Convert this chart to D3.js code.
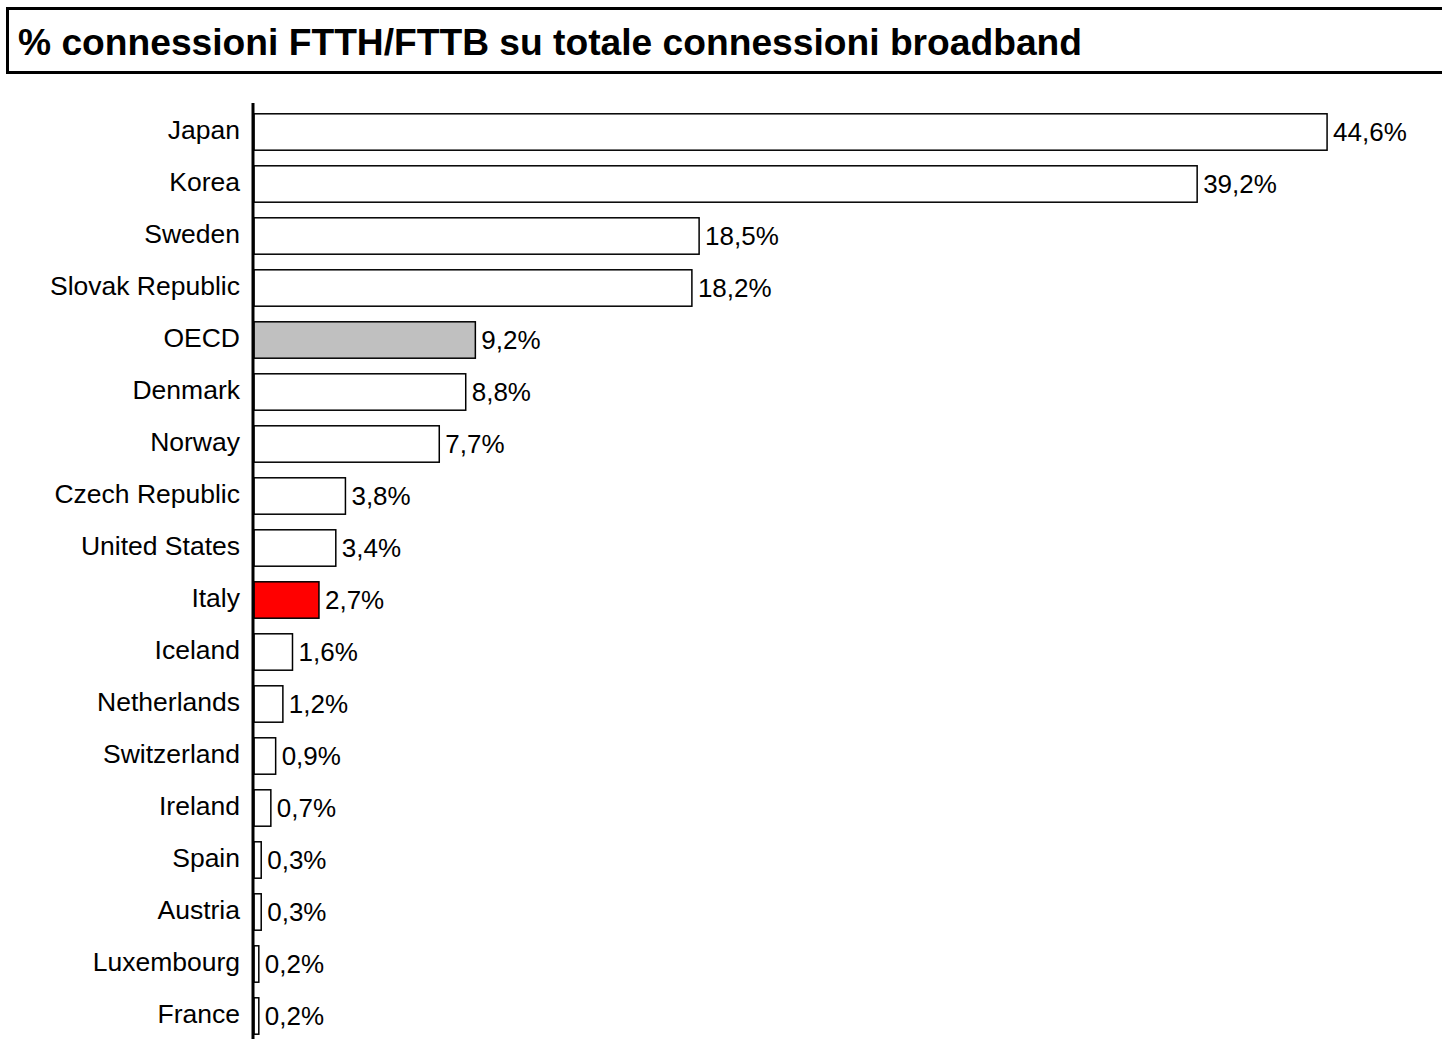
<!DOCTYPE html>
<html>
<head>
<meta charset="utf-8">
<script src="https://cdn.jsdelivr.net/npm/d3@7"></script>
<style>
   body { margin: 0; background: #fff; }
   svg { display: block; font-family: "Liberation Sans", Arial, sans-serif; }
</style>
</head>
<body>
<div id="chart"></div>
<script>
// countries, top to bottom
var countries = ["Japan", "Korea", "Sweden", "Slovak Republic", "OECD", "Denmark", "Norway",
   "Czech Republic", "United States", "Italy", "Iceland", "Netherlands", "Switzerland",
   "Ireland", "Spain", "Austria", "Luxembourg", "France"]
// % FTTH/FTTB
var values = [44.6, 39.2, 18.5, 18.2, 9.2, 8.8, 7.7, 3.8, 3.4, 2.7, 1.6, 1.2, 0.9, 0.7, 0.3, 0.3, 0.2, 0.2]
var title = "% connessioni FTTH/FTTB su totale connessioni broadband"

var width = 1442
var height = 1039

var itLocale = d3.formatLocale({ decimal: ",", thousands: ".", grouping: [3], currency: ["€", ""] })
var fmt = itLocale.format(".1f")

var svg = d3.select("#chart").append("svg")
   .attr("width", width)
   .attr("height", height)

// title box
svg.append("rect")
   .attr("x", 7.5)
   .attr("y", 8.5)
   .attr("width", width)
   .attr("height", 64)
   .attr("fill", "none")
   .attr("stroke", "#000")
   .attr("stroke-width", 3)

svg.append("text")
   .attr("x", 18)
   .attr("y", 55)
   .attr("font-size", 37.2)
   .attr("font-weight", "bold")
   .text(title)

var x0 = 254
var scaleX = d3.scaleLinear().domain([0, 48]).range([x0, x0 + 48 * 24.06])
var scaleY = d3.scaleBand().domain(countries).range([106, 1042])
   .paddingInner(0.3).paddingOuter(0.15)

var data = countries.map(function(c, i) { return { name: c, value: values[i] } })

function fillFor(d) {
   if(d.name == "OECD") return "#c0c0c0"
   if(d.name == "Italy") return "#ff0000"
   return "#fff"
}

svg.selectAll("rect.bar").data(data).enter().append("rect")
   .attr("class", "bar")
   .attr("x", scaleX(0))
   .attr("y", function(d) { return scaleY(d.name) })
   .attr("width", function(d) { return scaleX(d.value) - scaleX(0) })
   .attr("height", scaleY.bandwidth())
   .attr("fill", fillFor)
   .attr("stroke", "#000")
   .attr("stroke-width", 1.5)

svg.selectAll("text.val").data(data).enter().append("text")
   .attr("class", "val")
   .attr("x", function(d) { return scaleX(d.value) + 6 })
   .attr("y", function(d) { return scaleY(d.name) + scaleY.bandwidth() / 2 })
   .attr("dy", "0.35em")
   .attr("font-size", 26)
   .text(function(d) { return fmt(d.value) + "%" })

// category axis
var axis = svg.append("g")
   .attr("transform", "translate(" + (x0 - 1) + ",0)")
   .call(d3.axisLeft(scaleY).tickSize(0).tickPadding(13))

axis.select(".domain")
   .attr("d", "M0,103V" + height)
   .attr("stroke", "#000")
   .attr("stroke-width", 3)

axis.selectAll("text")
   .attr("font-size", 26.5)
   .attr("font-family", "Liberation Sans, Arial, sans-serif")
   .attr("fill", "#000")
   .attr("dy", "0.28em")
</script>
</body>
</html>
